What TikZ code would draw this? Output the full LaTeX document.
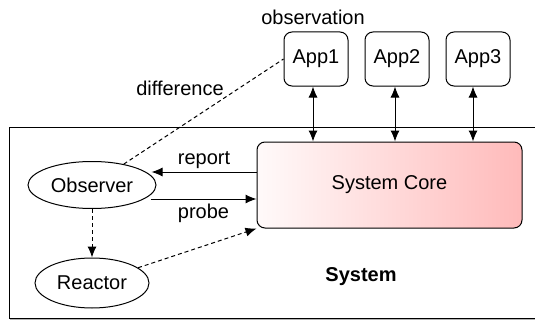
\documentclass[tikz,border=0pt]{standalone}
\usepackage{fontspec}
\setmainfont{Liberation Sans}
\usetikzlibrary{shapes.geometric, arrows.meta, positioning, shadows}
\tikzstyle{app} = [rectangle, rounded corners=4pt, minimum width=32pt, minimum height=27pt, text centered, draw=black, fill=white]
\tikzstyle{core} = [rectangle, rounded corners=4pt, minimum width=132.5pt, minimum height=43pt, text centered, draw=black, left color=red!2, middle color=red!11, right color=red!27]
\tikzstyle{agent} = [ellipse, inner sep=0pt, text centered, draw=black, fill=white]
\tikzstyle{arrow} = [->, >={Latex[length=5.5pt,width=4.5pt]}]
\tikzstyle{twoway} = [<->, >={Latex[length=5.5pt,width=4.5pt]}]
\tikzstyle{hint} = [->, >={Latex[length=5.5pt,width=4.5pt]}, dash pattern=on 2pt off 1.5pt]

\begin{document}
\begin{tikzpicture}[x=0.5pt, y=0.5pt, line width=0.5pt, node distance=40.5pt, font=\fontsize{10}{12}\selectfont]
        \useasboundingbox (0,0) rectangle (535,322);

        % System frame
        \node (system) [rectangle, draw=black, fill=white, minimum width=270pt, minimum height=95.5pt, inner sep=0pt, anchor=south west, drop shadow={shadow xshift=0.4pt, shadow yshift=-0.8pt, opacity=0.6}] at (9,3) {};
        \node (systemlabel) [font=\fontsize{10}{12}\selectfont\bfseries] at (361,45) {System};

        % Core
        \node (core) [core] at (389.5,137) {System Core};

        % Applications
        \node (app1) [app] at (316,263) {App1};
        \node (app2) [app, right of=app1] {App2};
        \node (app3) [app, right of=app2] {App3};
        \node (observation) at (313,305) {observation};

        % Observer and reactor
        \node (observer) [agent, minimum width=64pt, minimum height=23.5pt] at (92,137) {Observer};
        \node (reactor) [agent, minimum width=57pt, minimum height=25pt, below of=observer, node distance=49pt] {Reactor};
        \node (difference) at (180,234) {difference};

        % Arrows
        \draw [twoway] ([xshift=-1.5pt]app1.south) -- ([xshift=-1.5pt]app1.south |- core.north);
        \draw [twoway] ([xshift=-1pt]app2.south) -- ([xshift=-1pt]app2.south |- core.north);
        \draw [twoway] ([xshift=-2.5pt]app3.south) -- ([xshift=-2.5pt]app3.south |- core.north);
        \draw [arrow] ([yshift=6.5pt]core.west) -- node[above, yshift=-2pt] {report} ([yshift=6.5pt,xshift=-2.5pt]core.west -| observer.east);
        \draw [arrow] ([yshift=-7pt,xshift=-3pt]observer.east) -- node[below, yshift=1pt] {probe} ([yshift=-7pt]observer.east -| core.west);
        \draw [dash pattern=on 2pt off 1.5pt] (observer) -- (app1.west);
        \draw [hint] (observer) -- (reactor);
        \draw [hint] (reactor) -- (core.south west);
      \end{tikzpicture}
\end{document}
